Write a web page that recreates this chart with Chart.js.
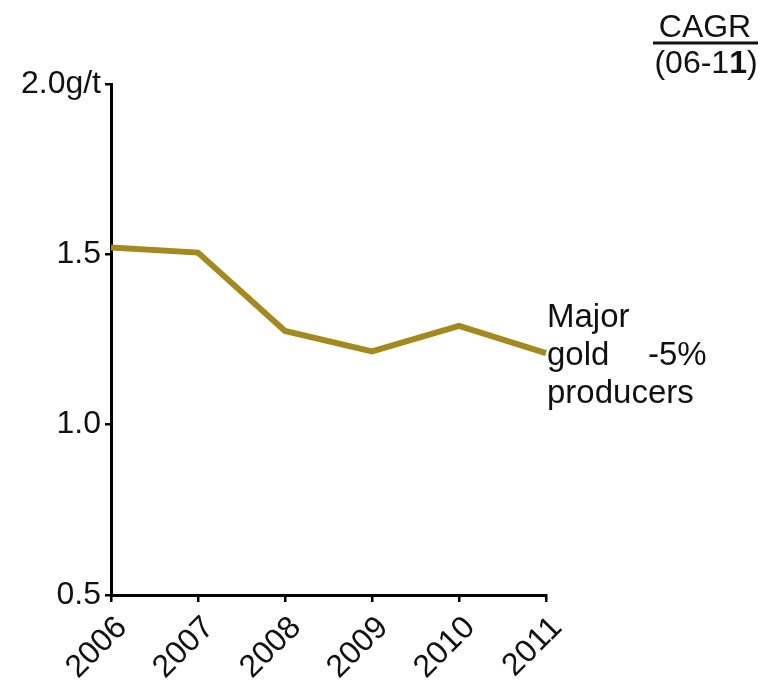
<!DOCTYPE html>
<html>
<head>
<meta charset="utf-8">
<script src="https://cdn.jsdelivr.net/npm/chart.js@4.4.1/dist/chart.umd.min.js"></script>
<style>
  html, body { margin: 0; padding: 0; background: #fff; }
  #wrap { width: 765px; height: 682px; }
</style>
</head>
<body>
<div id="wrap"><canvas id="c" width="765" height="682"></canvas></div>
<script>
// Average head grade of major gold producers, g/t
const years = ['2006', '2007', '2008', '2009', '2010', '2011'];
const gradeValues = [1.52, 1.505, 1.275, 1.215, 1.29, 1.21];
const yTickValues = [0.5, 1.0, 1.5, 2.0];
const seriesLabel = ['Major', 'gold', 'producers'];
const cagrLabel = '-5%';

const FONT = '"Liberation Sans", Arial, Helvetica, sans-serif';
const GOLD = '#A48A1E';

const annotations = {
  id: 'annotations',
  afterDraw(chart) {
    const ctx = chart.ctx;
    const area = chart.chartArea;
    const y = chart.scales.y;
    ctx.save();
    ctx.fillStyle = '#111';
    ctx.font = '33px ' + FONT;
    ctx.textBaseline = 'middle';
    ctx.textAlign = 'left';
    // series label beside the last point
    const lastY = y.getPixelForValue(gradeValues[gradeValues.length - 1]);
    const x0 = area.right + 1;
    seriesLabel.forEach((t, i) => ctx.fillText(t, x0, lastY + (i - 1) * 38 + 3));
    ctx.fillText(cagrLabel, 648, lastY + 3);

    // CAGR header
    ctx.font = '32px ' + FONT;
    ctx.textAlign = 'center';
    ctx.fillText('CAGR', 705, 28);
    ctx.strokeStyle = '#111';
    ctx.lineWidth = 3;
    ctx.beginPath();
    ctx.moveTo(653, 43);
    ctx.lineTo(758, 43);
    ctx.stroke();
    ctx.textAlign = 'left';
    const head = '(06-1';
    const wHead = ctx.measureText(head).width;
    ctx.font = 'bold 32px ' + FONT;
    const wOne = ctx.measureText('1').width;
    ctx.font = '32px ' + FONT;
    const wTail = ctx.measureText(')').width;
    let sx = 706 - (wHead + wOne + wTail) / 2;
    ctx.fillText(head, sx, 64);
    sx += wHead;
    ctx.font = 'bold 32px ' + FONT;
    ctx.fillText('1', sx, 64);
    sx += wOne;
    ctx.font = '32px ' + FONT;
    ctx.fillText(')', sx, 64);
    ctx.restore();
  }
};

new Chart(document.getElementById('c'), {
  type: 'line',
  data: {
    labels: years,
    datasets: [{
      data: gradeValues,
      borderColor: GOLD,
      borderWidth: 6,
      pointRadius: 0,
      tension: 0,
      fill: false,
      borderJoinStyle: 'miter'
    }]
  },
  options: {
    responsive: false,
    animation: false,
    devicePixelRatio: 1,
    layout: { padding: { left: 0, top: 84, right: 219, bottom: 0 } },
    plugins: { legend: { display: false }, tooltip: { enabled: false } },
    scales: {
      x: {
        type: 'category',
        offset: false,
        grid: { drawOnChartArea: false, drawTicks: true, tickLength: 7, color: '#000', lineWidth: 2.5 },
        border: { display: true, color: '#000', width: 3 },
        ticks: {
          color: '#111',
          font: { family: FONT, size: 32 },
          maxRotation: 45,
          minRotation: 45,
          padding: 7,
          labelOffset: 11
        },
        afterFit(scale) { scale.height = 87; }
      },
      y: {
        min: 0.5,
        max: 2.0,
        afterBuildTicks(scale) { scale.ticks = yTickValues.map(v => ({ value: v })); },
        grid: { drawOnChartArea: false, drawTicks: true, tickLength: 6, color: '#000', lineWidth: 2.5 },
        border: { display: true, color: '#000', width: 3 },
        ticks: {
          color: '#111',
          font: { family: FONT, size: 32 },
          padding: 4,
          callback: v => (v === 2 ? '2.0g/t' : v.toFixed(1))
        },
        afterFit(scale) { scale.width = 111; }
      }
    }
  },
  plugins: [annotations]
});
</script>
</body>
</html>
